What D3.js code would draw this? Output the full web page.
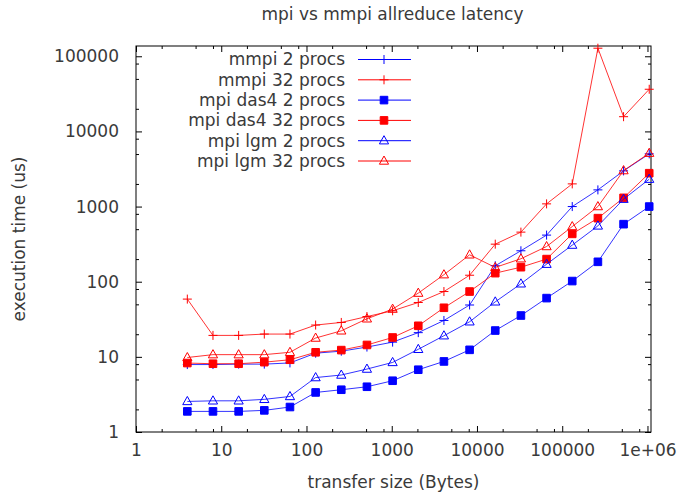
<!DOCTYPE html>
<html>
<head>
<meta charset="utf-8">
<script src="https://cdnjs.cloudflare.com/ajax/libs/d3/7.8.5/d3.min.js"></script>
<style>
  body { margin: 0; background: #fff; }
  text { font-family: "DejaVu Sans", sans-serif; fill: #3a3a3a; }
</style>
</head>
<body>
<div id="chart-area"></div>
<script>
// transfer sizes (Bytes) and execution time (us) per series
var sizes = [4, 8, 16, 32, 64, 128, 256, 512, 1024, 2048, 4096, 8192, 16384, 32768, 65536, 131072, 262144, 524288, 1048576];
var mmpi2 = [7.9, 7.9, 8.0, 8.0, 8.3, 11.2, 11.9, 13.5, 15.7, 21, 30.5, 49, 163, 258, 417, 1000, 1667, 2985, 5030];
var mmpi32 = [58.7, 19.3, 19.3, 20.1, 20.1, 26.5, 28.7, 34.4, 41, 52.9, 74, 122, 316, 457, 1086, 2004, 128000, 15700, 36400];
var das4_2 = [1.88, 1.88, 1.88, 1.94, 2.15, 3.36, 3.65, 4.0, 4.81, 6.74, 8.69, 12.4, 22.4, 35.5, 60.5, 102, 184, 583, 1000];
var das4_32 = [8.27, 8.1, 8.1, 8.5, 9.15, 11.5, 12.3, 14.4, 18.1, 25.9, 45, 74, 130, 156, 200, 433, 701, 1306, 2780];
var lgm2 = [2.55, 2.6, 2.6, 2.72, 2.97, 5.3, 5.73, 6.88, 8.43, 12.6, 19.1, 29.3, 54, 93.8, 171, 307, 553, 1254, 2314];
var lgm32 = [9.8, 10.7, 10.7, 10.7, 11.5, 17.8, 22.2, 32.1, 43.2, 70.5, 124, 228, 155, 202, 294, 542, 1000, 3013, 5130];

var seriesNames = ["mmpi 2 procs", "mmpi 32 procs", "mpi das4 2 procs", "mpi das4 32 procs", "mpi lgm 2 procs", "mpi lgm 32 procs"];
var seriesColors = ["#0000ff", "#ff0000", "#0000ff", "#ff0000", "#0000ff", "#ff0000"];
var seriesMarks = ["plus", "plus", "square", "square", "triangle", "triangle"];
var seriesValues = [mmpi2, mmpi32, das4_2, das4_32, lgm2, lgm32];

var xMajor = [1, 10, 100, 1000, 10000, 100000, 1000000];
var xLabels = ["1", "10", "100", "1000", "10000", "100000", "1e+06"];
var yMajor = [1, 10, 100, 1000, 10000, 100000];
var yLabels = ["1", "10", "100", "1000", "10000", "100000"];

var W = 678, H = 493;
var margin = {top: 46, right: 27, bottom: 61, left: 136};
var width = W - margin.left - margin.right;
var height = H - margin.top - margin.bottom;

var svg = d3.select("#chart-area").append("svg")
  .attr("width", W).attr("height", H);
var g = svg.append("g")
  .attr("transform", "translate(" + margin.left + "," + margin.top + ")");

var x = d3.scaleLog().domain([1, 1.1e6]).range([0, width]);
var y = d3.scaleLog().domain([1, 1.37e5]).range([height, 0]);

function minors(lo, hi) {
  var out = [];
  for (var p = lo; p <= hi; p *= 10) {
    [2, 5, 8].forEach(function (m) { out.push(p * m); });
  }
  return out;
}
var xMinor = minors(1, 1e6).filter(function (v) { return v <= 1.1e6; });
var yMinor = minors(1, 1e5).filter(function (v) { return v <= 1.37e5; });

function styleAxis(sel) {
  sel.select(".domain").remove();
  sel.selectAll("line").attr("stroke", "#000").attr("stroke-width", 1);
  sel.selectAll("text").attr("font-size", "17px").attr("fill", "#3a3a3a")
    .style("font-family", "'DejaVu Sans', sans-serif");
}

// major ticks with labels
g.append("g").attr("transform", "translate(0," + height + ")")
  .call(d3.axisBottom(x).tickValues(xMajor).tickSize(-6).tickPadding(12)
    .tickFormat(function (d, i) { return xLabels[i]; }))
  .call(styleAxis);
g.append("g")
  .call(d3.axisLeft(y).tickValues(yMajor).tickSize(-6).tickPadding(17)
    .tickFormat(function (d, i) { return yLabels[i]; }))
  .call(styleAxis);
// mirrored major ticks
g.append("g")
  .call(d3.axisTop(x).tickValues(xMajor).tickSize(-6).tickFormat(""))
  .call(styleAxis);
g.append("g").attr("transform", "translate(" + width + ",0)")
  .call(d3.axisRight(y).tickValues(yMajor).tickSize(-6).tickFormat(""))
  .call(styleAxis);
// minor ticks
g.append("g").attr("transform", "translate(0," + height + ")")
  .call(d3.axisBottom(x).tickValues(xMinor).tickSize(-3).tickFormat(""))
  .call(styleAxis);
g.append("g")
  .call(d3.axisTop(x).tickValues(xMinor).tickSize(-3).tickFormat(""))
  .call(styleAxis);
g.append("g")
  .call(d3.axisLeft(y).tickValues(yMinor).tickSize(-3).tickFormat(""))
  .call(styleAxis);
g.append("g").attr("transform", "translate(" + width + ",0)")
  .call(d3.axisRight(y).tickValues(yMinor).tickSize(-3).tickFormat(""))
  .call(styleAxis);

// border
g.append("rect")
  .attr("x", 0).attr("y", 0).attr("width", width).attr("height", height)
  .attr("fill", "none").attr("stroke", "#000").attr("stroke-width", 1);

function markPath(type) {
  if (type === "plus") return "M-4.5,0H4.5M0,-4.5V4.5";
  if (type === "square") return "M-3.8,-3.8H3.8V3.8H-3.8Z";
  return "M0,-5L4.6,3.2H-4.6Z";
}

var line = d3.line()
  .x(function (d) { return x(d[0]); })
  .y(function (d) { return y(d[1]); });

seriesValues.forEach(function (vals, k) {
  var pts = sizes.map(function (s, i) { return [s, vals[i]]; });
  var col = seriesColors[k];
  g.append("path").datum(pts)
    .attr("d", line)
    .attr("fill", "none").attr("stroke", col).attr("stroke-width", 1)
    .attr("stroke-opacity", 0.8);
  g.selectAll(".m" + k).data(pts).enter().append("path")
    .attr("class", "m" + k)
    .attr("transform", function (d) { return "translate(" + x(d[0]) + "," + y(d[1]) + ")"; })
    .attr("d", markPath(seriesMarks[k]))
    .attr("fill", seriesMarks[k] === "square" ? col : "none")
    .attr("stroke", col).attr("stroke-width", 1);
});

// legend
var legend = svg.append("g");
seriesNames.forEach(function (name, k) {
  var ly = 59.5 + k * 20.3;
  legend.append("text")
    .attr("x", 345).attr("y", ly).attr("dy", "0.35em")
    .attr("text-anchor", "end").attr("font-size", "17px")
    .text(name);
  legend.append("line")
    .attr("x1", 358).attr("x2", 411).attr("y1", ly).attr("y2", ly)
    .attr("stroke", seriesColors[k]).attr("stroke-width", 1);
  legend.append("path")
    .attr("transform", "translate(384," + ly + ")")
    .attr("d", markPath(seriesMarks[k]))
    .attr("fill", seriesMarks[k] === "square" ? seriesColors[k] : "none")
    .attr("stroke", seriesColors[k]).attr("stroke-width", 1);
});

// title and axis labels
svg.append("text")
  .attr("x", margin.left + width / 2 - 1).attr("y", 20)
  .attr("text-anchor", "middle").attr("font-size", "17px")
  .text("mpi vs mmpi allreduce latency");
svg.append("text")
  .attr("x", margin.left + width / 2).attr("y", 488)
  .attr("text-anchor", "middle").attr("font-size", "17px")
  .text("transfer size (Bytes)");
svg.append("text")
  .attr("transform", "translate(25," + (margin.top + height / 2) + ") rotate(-90)")
  .attr("text-anchor", "middle").attr("font-size", "17px")
  .text("execution time (us)");
</script>
</body>
</html>
